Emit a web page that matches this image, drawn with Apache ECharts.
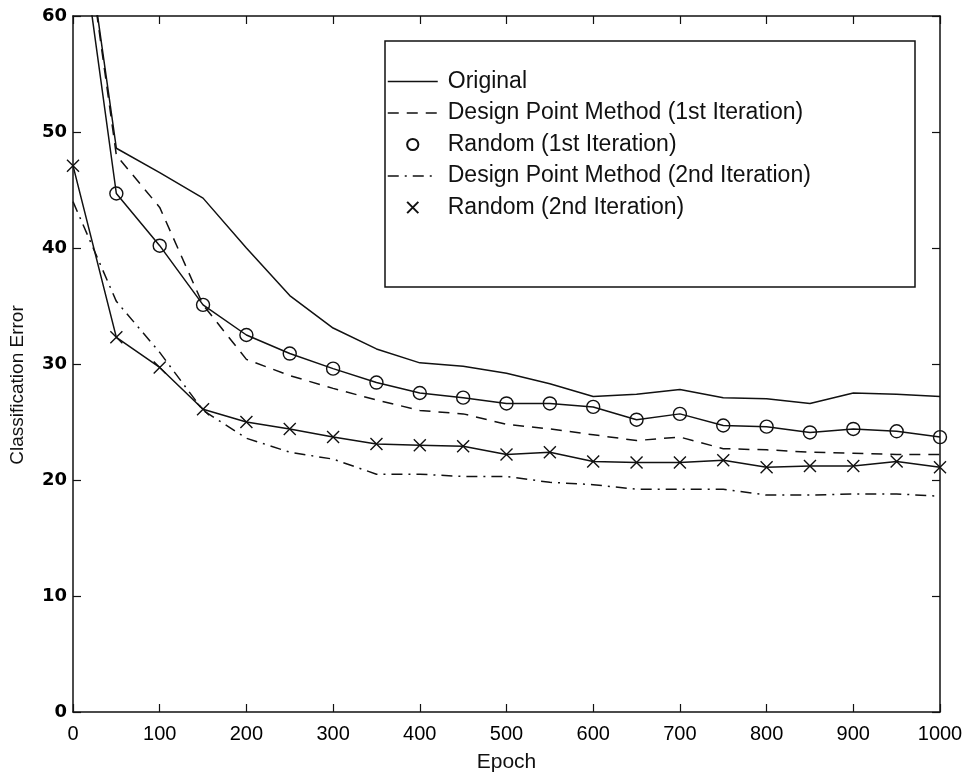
<!DOCTYPE html>
<html>
<head>
<meta charset="utf-8">
<script src="https://cdn.jsdelivr.net/npm/echarts@6/dist/echarts.min.js"></script>
<style>
  html, body { margin: 0; padding: 0; background: #fff; }
  #chart { width: 974px; height: 778px; }
</style>
</head>
<body>
<div id="chart"></div>
<script>
// Training epochs at which the classification error was recorded
const epochs = [0, 50, 100, 150, 200, 250, 300, 350, 400, 450, 500,
                550, 600, 650, 700, 750, 800, 850, 900, 950, 1000];

// Classification error per method
const original = [75, 48.6, 46.5, 44.3, 40.0, 35.9, 33.1, 31.3, 30.1, 29.8, 29.2,
                  28.3, 27.2, 27.4, 27.8, 27.1, 27.0, 26.6, 27.5, 27.4, 27.2];
const designPoint1 = [75, 48.0, 43.5, 35.1, 30.4, 29.0, 27.9, 26.9, 26.0, 25.7, 24.8,
                      24.4, 23.9, 23.4, 23.7, 22.7, 22.6, 22.4, 22.3, 22.2, 22.2];
const random1 = [72, 44.7, 40.2, 35.1, 32.5, 30.9, 29.6, 28.4, 27.5, 27.1, 26.6,
                 26.6, 26.3, 25.2, 25.7, 24.7, 24.6, 24.1, 24.4, 24.2, 23.7];
const designPoint2 = [44.0, 35.4, 31.0, 26.0, 23.6, 22.4, 21.8, 20.5, 20.5, 20.3, 20.3,
                      19.8, 19.6, 19.2, 19.2, 19.2, 18.7, 18.7, 18.8, 18.8, 18.6];
const random2 = [47.1, 32.3, 29.7, 26.1, 25.0, 24.4, 23.7, 23.1, 23.0, 22.9, 22.2,
                 22.4, 21.6, 21.5, 21.5, 21.7, 21.1, 21.2, 21.2, 21.6, 21.1];

const seriesNames = [
  'Original',
  'Design Point Method (1st Iteration)',
  'Random (1st Iteration)',
  'Design Point Method (2nd Iteration)',
  'Random (2nd Iteration)'
];

const xTicks = { min: 0, max: 1000, interval: 100 };
const yTicks = { min: 0, max: 60, interval: 10 };

const pairs = ys => epochs.map((e, i) => [e, ys[i]]);
const INK = '#111';
const crossPath = 'path://M0,0L10,10M10,0L0,10';

const chart = echarts.init(document.getElementById('chart'), null, { renderer: 'canvas' });

const lineSeries = (name, ys, type) => ({
  name, type: 'line', data: pairs(ys), symbol: 'none', showSymbol: false,
  clip: true, animation: false, z: 3,
  lineStyle: { color: INK, width: 1.5, type },
  itemStyle: { color: INK }
});

const markerSeries = (name, ys, symbol, size) => ({
  name, type: 'line', data: pairs(ys), symbol, symbolSize: size, showSymbol: true,
  clip: true, animation: false, z: 5,
  lineStyle: { width: 0, color: INK },
  itemStyle: { color: 'transparent', borderColor: INK, borderWidth: 1.4 }
});

// solid connecting lines under the marker-only series
const connector = ys => ({
  type: 'line', data: pairs(ys), symbol: 'none', showSymbol: false,
  clip: true, animation: false, z: 4, silent: true,
  lineStyle: { color: INK, width: 1.5 }
});

const option = {
  backgroundColor: '#fff',
  animation: false,
  grid: { left: 72, right: 34, top: 16, bottom: 65 },
  xAxis: [{
    type: 'value', ...xTicks,
    name: 'Epoch', nameLocation: 'middle', nameGap: 40,
    nameTextStyle: { fontFamily: 'Liberation Sans', fontSize: 21, color: INK },
    axisLine: { show: true, lineStyle: { color: INK, width: 1.5 } },
    axisTick: { show: true, inside: true, length: 8, lineStyle: { color: INK, width: 1.2 } },
    axisLabel: { fontFamily: 'Liberation Sans', fontSize: 20, color: '#000', margin: 12,
                 formatter: v => String(v) },
    splitLine: { show: false }
  }, {
    type: 'value', ...xTicks, position: 'top',
    axisLine: { show: true, onZero: false, lineStyle: { color: INK, width: 1.5 } },
    axisTick: { show: true, inside: true, length: 8, lineStyle: { color: INK, width: 1.2 } },
    axisLabel: { show: false },
    splitLine: { show: false }
  }],
  yAxis: [{
    type: 'value', ...yTicks,
    name: 'Classification Error', nameLocation: 'middle', nameGap: 46,
    nameTextStyle: { fontFamily: 'Liberation Sans', fontSize: 19, color: INK, padding: [0, 42, 0, 0] },
    axisLine: { show: true, lineStyle: { color: INK, width: 1.5 } },
    axisTick: { show: true, inside: true, length: 8, lineStyle: { color: INK, width: 1.2 } },
    axisLabel: { fontFamily: 'DejaVu Sans', fontWeight: 'bold', fontSize: 18, color: '#000', margin: 6 },
    splitLine: { show: false }
  }, {
    type: 'value', ...yTicks, position: 'right',
    axisLine: { show: true, onZero: false, lineStyle: { color: INK, width: 1.5 } },
    axisTick: { show: true, inside: true, length: 8, lineStyle: { color: INK, width: 1.2 } },
    axisLabel: { show: false },
    splitLine: { show: false }
  }],
  legend: {
    orient: 'vertical',
    left: 387, top: 70,
    itemWidth: 50, itemHeight: 14, itemGap: 8.5,
    padding: 0,
    selectedMode: false,
    textStyle: { fontFamily: 'Liberation Sans', fontSize: 23, lineHeight: 23, color: INK, padding: [0, 0, 0, 5] },
    lineStyle: { width: 1.5 },
    data: [
      { name: seriesNames[0], itemStyle: { opacity: 0 } },
      { name: seriesNames[1], itemStyle: { opacity: 0 } },
      { name: seriesNames[2], lineStyle: { width: 0, opacity: 0 } },
      { name: seriesNames[3], itemStyle: { opacity: 0 } },
      { name: seriesNames[4], lineStyle: { width: 0, opacity: 0 } }
    ]
  },
  graphic: [{
    type: 'rect', z: 0,
    shape: { x: 385, y: 41, width: 530, height: 246 },
    style: { fill: '#fff', stroke: INK, lineWidth: 1.5 }
  }],
  series: [
    lineSeries(seriesNames[0], original, 'solid'),
    lineSeries(seriesNames[1], designPoint1, [11, 8]),
    connector(random1),
    markerSeries(seriesNames[2], random1, 'circle', 13),
    lineSeries(seriesNames[3], designPoint2, [11, 6, 2, 6]),
    connector(random2),
    markerSeries(seriesNames[4], random2, crossPath, 12)
  ]
};

chart.setOption(option);
</script>
</body>
</html>
